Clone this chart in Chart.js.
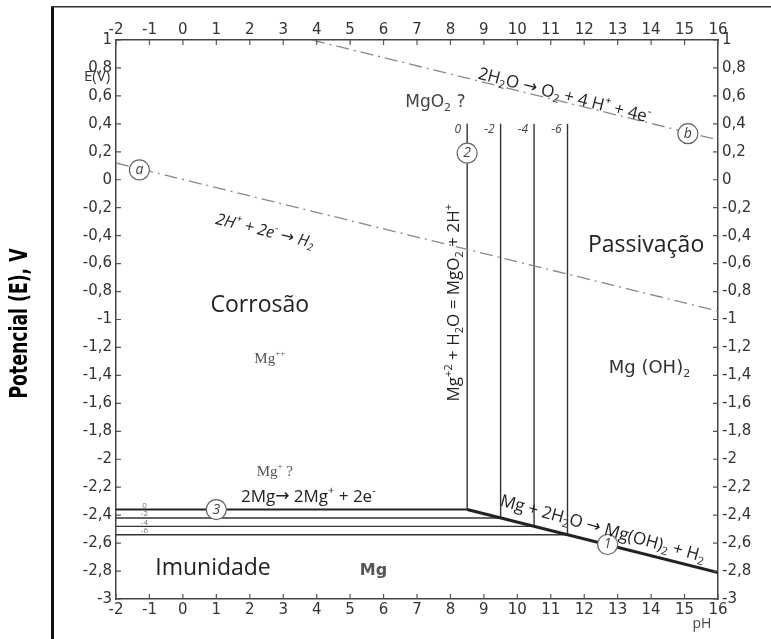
<!DOCTYPE html>
<html>
<head>
<meta charset="utf-8">
<script src="https://cdn.jsdelivr.net/npm/chart.js@4.4.1/dist/chart.umd.min.js"></script>
<style>
html,body{margin:0;padding:0;background:#fff}
#wrap{width:771px;height:639px;position:relative}
</style>
</head>
<body>
<div id="wrap"><canvas id="c"></canvas></div>
<script>
// axes
const phMin = -2, phMax = 16;
const eMin = -3, eMax = 1;

// line a : 2H+ + 2e- -> H2
const lineA_pH = [-2, 16];
const lineA_E = [0.12, -0.94];
// line b : 2H2O -> O2 + 4H+ + 4e-
const lineB_pH = [3.86, 16];
const lineB_E = [1, 0.285];
// line 1 : Mg + 2H2O -> Mg(OH)2 + H2
const line1_pH = [8.5, 16];
const line1_E = [-2.36, -2.81];

// Mg / Mg++ equilibrium for log C = 0, -2, -4, -6
const levelLabels = ['0', '-2', '-4', '-6'];
const levelE = [-2.36, -2.42, -2.48, -2.54];
const levelEndPH = [8.5, 9.5, 10.5, 11.5];
const verticalTopE = 0.4;

// circled line numbers
const circleLabels = ['a', 'b', '1', '2', '3'];
const circlePH = [-1.3, 15.1, 12.7, 8.5, 1.0];
const circleE = [0.07, 0.33, -2.61, 0.19, -2.36];

const dashed = {borderColor:'#888', borderWidth:1.3, borderDash:[13,5,2,5]};
const thin = {borderColor:'#333', borderWidth:1.4};

const datasets = [];
function seg(xs, ys, style){
	datasets.push(Object.assign({
		data: xs.map((x,i)=>({x:x, y:ys[i]})),
		showLine:true, pointRadius:0, fill:false
	}, style));
}
seg(lineA_pH, lineA_E, dashed);
seg(lineB_pH, lineB_E, dashed);
seg(line1_pH, line1_E, {borderColor:'#222', borderWidth:3});
for (let i = 0; i < levelE.length; i++)
{
	seg([phMin, levelEndPH[i]], [levelE[i], levelE[i]], i == 0 ? {borderColor:'#222', borderWidth:2} : thin);
	seg([levelEndPH[i], levelEndPH[i]], [levelE[i], verticalTopE], thin);
}
datasets.push({
	data: circlePH.map((x,i)=>({x:x, y:circleE[i]})),
	showLine:false, pointRadius:10, pointBackgroundColor:'#fff',
	pointBorderColor:'#666', pointBorderWidth:1.2, order:-1
});

const sans = '"Open Sans", sans-serif';
const serif = '"Liberation Serif", serif';
const dv = '"DejaVu Sans", sans-serif';
// _x = subscript, ^x = superscript, {} groups
const labels = [
	{t:'2H_2O → O_2 + 4 H^+ + 4e^-', x:11.4, y:0.6, s:17, f:sans, r:14.5},
	{t:'MgO_2 ?', x:7.55, y:0.55, s:17, f:dv, c:'#444'},
	{t:'2H^+ + 2e^- → H_2', x:2.45, y:-0.37, s:16, f:sans, st:'italic', r:14},
	{t:'Passivação', x:13.85, y:-0.47, s:23, f:sans},
	{t:'Corrosão', x:2.3, y:-0.9, s:23, f:sans},
	{t:'Mg^{++}', x:2.6, y:-1.28, s:15, f:serif, c:'#555'},
	{t:'Mg (OH)_2', x:13.95, y:-1.35, s:18, f:dv, c:'#333'},
	{t:'Mg^{+2} + H_2O = MgO_2 + 2H^+', x:8.12, y:-0.88, s:17, f:sans, r:-90},
	{t:'Mg^+ ?', x:2.75, y:-2.09, s:15, f:serif, c:'#555'},
	{t:'2Mg→ 2Mg^+ + 2e^-', x:3.75, y:-2.27, s:17, f:sans},
	{t:'Mg + 2H_2O → Mg(OH)_2 + H_2', x:12.55, y:-2.5, s:17, f:sans, r:15.5},
	{t:'Imunidade', x:0.9, y:-2.78, s:23, f:sans},
	{t:'Mg', x:5.7, y:-2.8, s:16, f:dv, w:'bold', c:'#555'}
];

function parseRuns(t){
	const runs = [];
	let i = 0;
	while (i < t.length)
	{
		let ch = t[i], kind = 'n';
		if (ch == '_' || ch == '^')
		{
			kind = ch == '_' ? 'sub' : 'sup';
			i++;
			if (t[i] == '{') { const j = t.indexOf('}', i); ch = t.slice(i+1, j); i = j+1; }
			else { ch = t[i]; i++; }
		}
		else i++;
		if (ch == '→') kind = kind == 'n' ? 'arrow' : kind;
		const last = runs[runs.length-1];
		if (last && last.kind == kind && kind != 'arrow') last.text += ch;
		else runs.push({kind:kind, text:ch});
	}
	return runs;
}

function rich(ctx, l, x, y){
	const runs = parseRuns(l.t);
	const st = (l.st || '') + ' ' + (l.w || '');
	const fontFor = r => {
		if (r.kind == 'arrow') return l.s + 'px ' + dv;
		if (r.kind == 'sub' || r.kind == 'sup') return st + ' ' + Math.round(l.s*0.62) + 'px ' + l.f;
		return st + ' ' + l.s + 'px ' + l.f;
	};
	ctx.save();
	ctx.translate(x, y);
	if (l.r) ctx.rotate(l.r*Math.PI/180);
	ctx.textBaseline = 'middle';
	ctx.textAlign = 'left';
	ctx.fillStyle = l.c || '#222';
	let w = 0;
	runs.forEach(r=>{ ctx.font = fontFor(r); r.w = ctx.measureText(r.text).width; w += r.w; });
	let cx = -w/2;
	runs.forEach(r=>{
		ctx.font = fontFor(r);
		let dy = 0;
		if (r.kind == 'sub') dy = l.s*0.3;
		if (r.kind == 'sup') dy = -l.s*0.35;
		ctx.fillText(r.text, cx, dy);
		cx += r.w;
	});
	ctx.restore();
}

function txt(ctx, t, x, y, font, color, align){
	ctx.save();
	ctx.font = font;
	ctx.fillStyle = color || '#222';
	ctx.textAlign = align || 'center';
	ctx.textBaseline = 'middle';
	ctx.fillText(t, x, y);
	ctx.restore();
}

const decor = {
	id:'decor',
	beforeDraw(chart){
		const ctx = chart.ctx;
		ctx.save();
		ctx.fillStyle = '#111';
		ctx.fillRect(51, 6, 3, 633);
		ctx.fillStyle = '#333';
		ctx.fillRect(51, 6, 720, 1.5);
		// y axis title, condensed bold
		ctx.translate(21, (chart.chartArea.top + chart.chartArea.bottom)/2 + 4);
		ctx.rotate(-Math.PI/2);
		ctx.scale(0.72, 1);
		ctx.font = 'bold 24px "DejaVu Sans", sans-serif';
		ctx.fillStyle = '#000';
		ctx.textAlign = 'center';
		ctx.textBaseline = 'middle';
		ctx.fillText('Potencial (E), V', 0, 0);
		ctx.restore();
	},
	afterDraw(chart){
		const ctx = chart.ctx;
		const sx = chart.scales.x, sy = chart.scales.y;
		const a = chart.chartArea;
		// inside tick marks
		ctx.save();
		ctx.strokeStyle = '#555';
		ctx.lineWidth = 1.2;
		ctx.beginPath();
		sx.ticks.forEach(t=>{
			const p = sx.getPixelForValue(t.value);
			ctx.moveTo(p, a.bottom); ctx.lineTo(p, a.bottom-5);
			ctx.moveTo(p, a.top); ctx.lineTo(p, a.top+5);
		});
		sy.ticks.forEach(t=>{
			const p = sy.getPixelForValue(t.value);
			ctx.moveTo(a.left, p); ctx.lineTo(a.left+5, p);
			ctx.moveTo(a.right, p); ctx.lineTo(a.right-5, p);
		});
		ctx.stroke();
		ctx.restore();

		labels.forEach(l=>rich(ctx, l, sx.getPixelForValue(l.x), sy.getPixelForValue(l.y)));

		// concentration labels
		levelEndPH.forEach((ph,i)=>{
			txt(ctx, levelLabels[i], sx.getPixelForValue(ph)-6, sy.getPixelForValue(0.36), 'italic 12px '+sans, '#444', 'right');
			txt(ctx, levelLabels[i], sx.getPixelForValue(-1.15), sy.getPixelForValue(levelE[i])-4, '8px '+sans, '#777');
		});

		// circle labels
		circleLabels.forEach((c,i)=>{
			txt(ctx, c, sx.getPixelForValue(circlePH[i]), sy.getPixelForValue(circleE[i]), 'italic 14px '+sans, '#444');
		});

		txt(ctx, 'E(V)', a.left-19, sy.getPixelForValue(0.74), '15px '+sans, '#333');
		txt(ctx, 'pH', a.right-16, a.bottom+25, '14px '+sans, '#444');
	}
};

const tickFont = {family:'"DejaVu Sans", sans-serif', size:15};
const eTick = v => String(Math.round(v*10)/10).replace('.', ',');
const noGrid = {display:false, drawTicks:false};
const border = {display:true, color:'#444', width:1.5};

new Chart(document.getElementById('c'), {
	type:'scatter',
	data:{datasets:datasets},
	plugins:[decor],
	options:{
		responsive:true,
		maintainAspectRatio:false,
		animation:false,
		layout:{padding:0},
		plugins:{legend:{display:false}, tooltip:{enabled:false}},
		scales:{
			x:{type:'linear', position:'bottom', min:phMin, max:phMax,
				grid:noGrid, border:border,
				ticks:{stepSize:1, padding:2, color:'#333', font:tickFont},
				afterFit:s=>{s.height = 40;}},
			x2:{type:'linear', position:'top', min:phMin, max:phMax,
				grid:noGrid, border:border,
				ticks:{stepSize:1, padding:1, color:'#333', font:tickFont},
				afterFit:s=>{s.height = 40;}},
			y:{type:'linear', position:'left', min:eMin, max:eMax,
				grid:noGrid, border:border,
				ticks:{stepSize:0.2, padding:4, color:'#333', font:tickFont, callback:eTick},
				afterFit:s=>{s.width = 116;}},
			y2:{type:'linear', position:'right', min:eMin, max:eMax,
				grid:noGrid, border:border,
				ticks:{stepSize:0.2, padding:4, color:'#333', font:tickFont, callback:eTick},
				afterFit:s=>{s.width = 53;}}
		}
	}
});
</script>
</body>
</html>
